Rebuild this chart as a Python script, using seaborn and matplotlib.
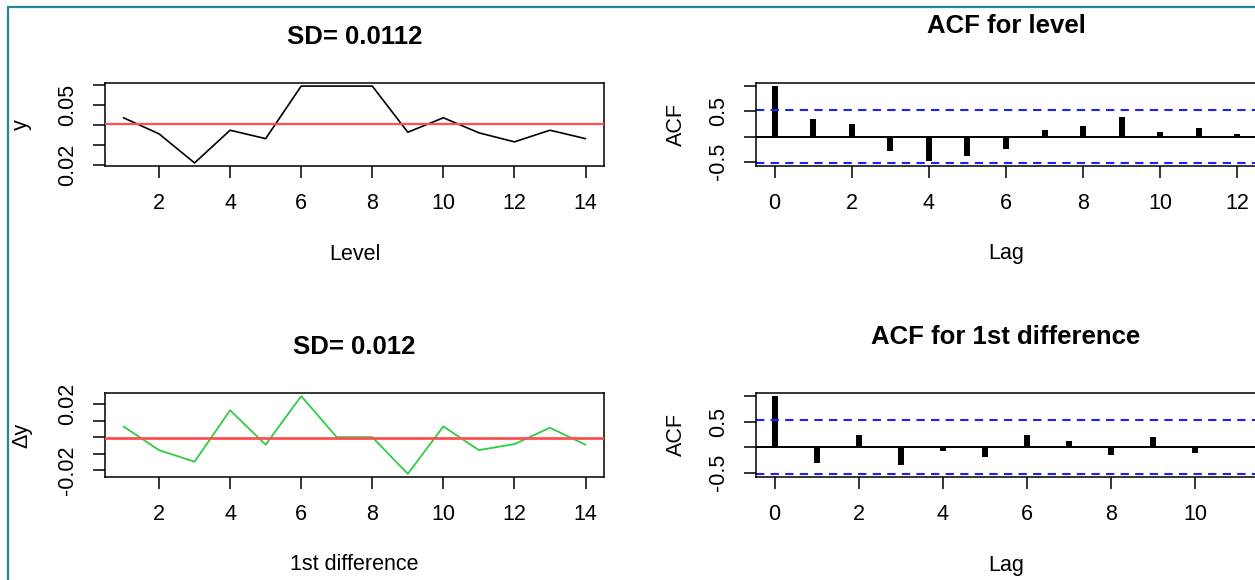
import numpy as np
import matplotlib
matplotlib.use("Agg")
import matplotlib.pyplot as plt
from matplotlib.lines import Line2D
import seaborn as sns

# ---------------- data ----------------
obs = list(range(1, 15))
level_values = [0.0437, 0.0357, 0.0212, 0.0375, 0.0333, 0.0595, 0.0595,
                0.0595, 0.0365, 0.0437, 0.0362, 0.0317, 0.0375, 0.0333]
diff_values = [0.0065, -0.0079, -0.0149, 0.0163, -0.0046, 0.0249, 0.0,
               0.0, -0.0223, 0.0065, -0.0079, -0.0042, 0.0057, -0.0046]
lags_level = list(range(13))
acf_level = [1.0, 0.34, 0.24, -0.28, -0.48, -0.38, -0.25, 0.12, 0.21,
             0.39, 0.09, 0.16, 0.05]
lags_diff = list(range(12))
acf_diff = [1.0, -0.31, 0.23, -0.35, -0.07, -0.20, 0.23, 0.12, -0.16,
            0.19, -0.11, -0.02]
ci_level = 0.524
ci_diff = 0.524

title_level = "SD= 0.0112"
title_diff = "SD= 0.012"
title_acf_level = "ACF for level"
title_acf_diff = "ACF for 1st difference"
xlabel_level = "Level"
xlabel_diff = "1st difference"
ylabel_level = "y"
ylabel_diff = "\u0394y"

# ---------------- style ----------------
sns.set_style("white")
plt.rcParams["font.family"] = ["Liberation Sans", "DejaVu Sans"]
for key in ("text.color", "axes.labelcolor", "xtick.color", "ytick.color"):
    plt.rcParams[key] = "black"

W, H = 1255, 580
fig = plt.figure(figsize=(W / 100, H / 100), dpi=100)

RED = "#ff4f4f"
GREEN = "#2fcc45"
BLUE = "#1f1fff"
TICK_FS = 15.5
TITLE_FS = 18.5


def add_ax(l, t, r, b):
    return fig.add_axes([l / W, 1 - b / H, (r - l) / W, (b - t) / H])


def r_range(vals):
    lo, hi = min(vals), max(vals)
    ext = 0.04 * (hi - lo)
    return lo - ext, hi + ext


def style(ax, box):
    for s in ax.spines.values():
        s.set_visible(True)
        s.set_color("black")
        s.set_linewidth(1.1)
    ax.tick_params(axis="both", direction="out", length=8.6, width=1.1,
                   color="black", labelcolor="black", labelsize=TICK_FS,
                   pad=10.5, bottom=True, left=True, top=False, right=False)
    for lab in ax.get_yticklabels():
        lab.set_rotation(90)
        lab.set_va("center")
    ax.grid(False)
    ax.set_facecolor("white")


def place_labels(ax, box, xlab_y, ylab_x, title, title_y):
    l, t, r, b = box
    ax.xaxis.set_label_coords(0.5, (b - xlab_y) / (b - t))
    ax.xaxis.label.set_va("center")
    ax.yaxis.set_label_coords((ylab_x - l) / (r - l), 0.5)
    ax.yaxis.label.set_va("center")
    ax.text(0.5, (b - title_y) / (b - t), title, transform=ax.transAxes,
            ha="center", va="center", fontsize=TITLE_FS, fontweight="bold",
            color="black")


# ---------------- top-left: level series ----------------
box_tl = (105, 83, 604, 166)
ax1 = add_ax(*box_tl)
sns.lineplot(x=obs, y=level_values, ax=ax1, color="black", linewidth=1.2)
ax1.axhline(np.mean(level_values), color=RED, linewidth=1.6, zorder=3)
ax1.set_xlim(0.48, 14.52)
ax1.set_ylim(*r_range(level_values))
ax1.set_xticks(range(2, 15, 2))
ax1.set_yticks([0.02, 0.03, 0.04, 0.05, 0.06])
ax1.set_yticklabels(["0.02", "", "", "0.05", ""])
ax1.set_xlabel(xlabel_level, fontsize=TICK_FS)
ax1.set_ylabel(ylabel_level, fontsize=TICK_FS)
style(ax1, box_tl)
place_labels(ax1, box_tl, 254, 21, title_level, 37)

# ---------------- bottom-left: first difference ----------------
box_bl = (105, 393, 604, 477)
ax3 = add_ax(*box_bl)
sns.lineplot(x=obs, y=diff_values, ax=ax3, color=GREEN, linewidth=1.3)
ax3.axhline(np.mean(diff_values), color=RED, linewidth=2.0, zorder=3)
ax3.set_xlim(0.48, 14.52)
ax3.set_ylim(*r_range(diff_values))
ax3.set_xticks(range(2, 15, 2))
ax3.set_yticks([-0.02, -0.01, 0.0, 0.01, 0.02])
ax3.set_yticklabels(["-0.02", "", "", "", "0.02"])
ax3.set_xlabel(xlabel_diff, fontsize=TICK_FS)
ax3.set_ylabel(ylabel_diff, fontsize=TICK_FS)
style(ax3, box_bl)
place_labels(ax3, box_bl, 564, 22, title_diff, 347)


# ---------------- ACF panels ----------------
def acf_panel(box, lags, acf, ci, xticks, title, xlab_y, title_y):
    ax = add_ax(*box)
    ax.vlines(lags, 0, acf, color="black", linewidth=4.3, capstyle="butt")
    ax.axhline(0, color="black", linewidth=1.4)
    for c in (ci, -ci):
        ax.axhline(c, color=BLUE, linewidth=1.5, linestyle=(0, (4, 3)))
    lo = -ci - 0.04 * (1 + ci)
    hi = 1 + 0.04 * (1 + ci)
    ax.set_ylim(lo, hi)
    n = len(lags) - 1
    ax.set_xlim(-0.04 * n, n + 0.04 * n)
    ax.set_xticks(xticks)
    ax.set_yticks([-0.5, 0.0, 0.5, 1.0])
    ax.set_yticklabels(["-0.5", "", "0.5", ""])
    ax.set_xlabel("Lag", fontsize=TICK_FS)
    ax.set_ylabel("ACF", fontsize=TICK_FS)
    style(ax, box)
    place_labels(ax, box, xlab_y, 676, title, title_y)
    return ax


box_tr = (756, 83, 1256, 166)
acf_panel(box_tr, lags_level, acf_level, ci_level, range(0, 13, 2),
          title_acf_level, 254, 26)
box_br = (756, 393, 1256, 477)
acf_panel(box_br, lags_diff, acf_diff, ci_diff, range(0, 11, 2),
          title_acf_diff, 565, 337)

# ---------------- teal frame ----------------
TEAL = "#23869a"
fig.add_artist(Line2D([8 / W, 8 / W], [0, 1 - 7 / H], transform=fig.transFigure,
                      color=TEAL, linewidth=1.6))
fig.add_artist(Line2D([8 / W, 1], [1 - 7 / H, 1 - 7 / H], transform=fig.transFigure,
                      color=TEAL, linewidth=1.6))

fig.savefig("out.png", dpi=100, facecolor="white")
